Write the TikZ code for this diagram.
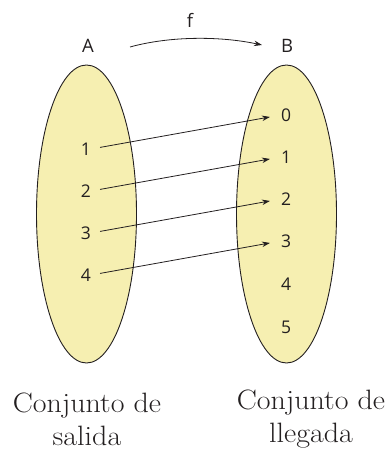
\documentclass[tikz,border=0pt]{standalone}
\usepackage{fontspec}
\setsansfont{Open Sans}
\usetikzlibrary{arrows.meta}
\definecolor{setfill}{RGB}{246,239,177}
\definecolor{ink}{RGB}{35,31,32}
\newcommand{\wide}[1]{\scalebox{1.07}[1]{#1}}
\tikzset{
  setshape/.style={draw=ink, fill=setfill, line width=0.9pt},
  elem/.style={font=\sffamily\fontsize{17.5}{20}\selectfont, text=ink, inner sep=0pt},
  setlabel/.style={font=\sffamily\fontsize{18.5}{21}\selectfont, text=ink, inner sep=0pt},
  caption/.style={font=\fontsize{28}{33}\selectfont, text=ink, align=center, inner sep=0pt},
  maparrow/.style={draw=ink, line width=0.8pt, -{Stealth[length=8pt,width=5.5pt]}, shorten <=9pt, shorten >=11pt}
}
\begin{document}
\begin{tikzpicture}[x=1pt,y=-1pt]
\useasboundingbox (0,0) rectangle (391,452);
\draw[setshape] (86.5,214) ellipse [x radius=50pt, y radius=149pt];
\draw[setshape] (286.5,214) ellipse [x radius=50pt, y radius=149pt];
\node[setlabel] (A) at (88,46) {A};
\node[setlabel] (B) at (287,46) {B};
\node[setlabel] (f) at (190,20) {f};
\coordinate (fs) at (130,47);
\coordinate (fe) at (262,45);
\draw[draw=ink, line width=0.8pt, -{Stealth[length=8pt,width=5.5pt]}] (fs) .. controls (170,36) and (220,36) .. (fe);
\node[elem] (l1) at (86,149) {1};
\node[elem] (l2) at (86,191) {2};
\node[elem] (l3) at (86,233) {3};
\node[elem] (l4) at (86,275) {4};
\node[elem] (r0) at (286,115) {0};
\node[elem] (r1) at (286,157) {1};
\node[elem] (r2) at (286,199) {2};
\node[elem] (r3) at (286,241) {3};
\node[elem] (r4) at (286,284) {4};
\node[elem] (r5) at (286,327) {5};
\draw[maparrow] (l1.east) -- (r0.west);
\draw[maparrow] (l2.east) -- (r1.west);
\draw[maparrow] (l3.east) -- (r2.west);
\draw[maparrow] (l4.east) -- (r3.west);
\node[caption] (cs) at (87,419) {\wide{Conjunto de}\\\wide{salida}};
\node[caption] (cl) at (311,419) {\wide{Conjunto de}\\\wide{llegada}};
\end{tikzpicture}
\end{document}
